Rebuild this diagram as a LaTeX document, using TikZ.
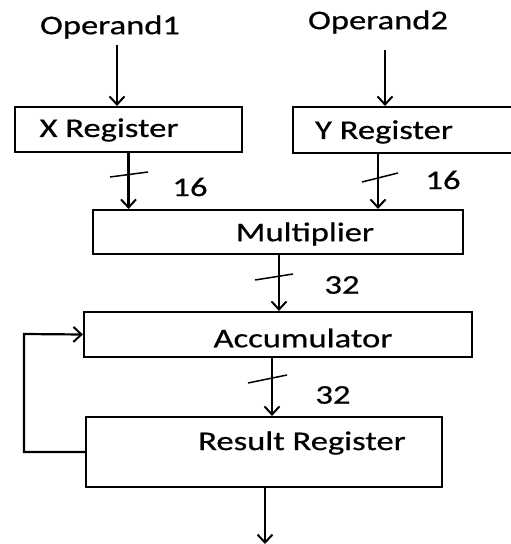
\documentclass[tikz,border=0pt]{standalone}
\usepackage{fontspec}
\setmainfont{Carlito}[FakeStretch=1.28,FakeBold=0.6]
\usetikzlibrary{arrows.meta,calc}
\begin{document}
\begin{tikzpicture}[x=1pt,y=-1pt,
  box/.style={draw,line width=2.2pt,minimum width=#1,inner sep=0pt},
  lbl/.style={font=\fontsize{27}{30}\selectfont,inner sep=0pt,anchor=center},
  arr/.style={line width=2.2pt,-{Straight Barb[length=8pt,width=15pt,line width=2pt]}},
  tick/.style={line width=1.5pt},
]
\useasboundingbox (0,0) rectangle (511,544);
% register and datapath boxes
\node[box=227pt,minimum height=45pt] (xreg) at (128.5,129.5) {};
\node[box=227pt,minimum height=46pt] (yreg) at (406.5,130) {};
\node[box=370pt,minimum height=44pt] (mult) at (278,232) {};
\node[box=388pt,minimum height=45pt] (acc) at (278,334.5) {};
\node[box=356pt,minimum height=70pt] (res) at (264,452) {};
% texts
\node[lbl] (op1) at (110,27) {Operand1};
\node[lbl] (op2) at (378,22) {Operand2};
\node[lbl] at (109,130) {X Register};
\node[lbl] at (384,132) {Y Register};
\node[lbl] at (305,234) {Multiplier};
\node[lbl] at (303,338) {Accumulator};
\node[lbl] at (302,443) {Result Register};
\node[lbl] (w1) at (190,187) {16};
\node[lbl] (w2) at (443,180) {16};
\node[lbl] (w3) at (342,285) {32};
\node[lbl] (w4) at (333,395) {32};
% inputs
\draw[arr] (117,45) -- (117,0 |- xreg.north);
\draw[arr] (385,50) -- (385,0 |- yreg.north);
% 16-bit buses into the multiplier
\draw[arr] (xreg.south) -- (xreg.south |- mult.north);
\draw[arr] (378,0 |- yreg.south) -- (378,0 |- mult.north);
\draw[tick] (110,177) -- (148,172);
\draw[tick] (362,182) -- (398,173);
% 32-bit product into the accumulator
\draw[arr] (279,0 |- mult.south) -- (279,0 |- acc.north);
\draw[tick] (255,280) -- (293,274);
% accumulator to result register
\draw[arr] (272,0 |- acc.south) -- (272,0 |- res.north);
\draw[tick] (248,383) -- (287,375);
% feedback loop
\coordinate (fb1) at (24,452);
\coordinate (fb2) at (24,334);
\draw[arr] (res.west) -- (fb1) -- (fb2) -- (acc.west);
% output
\coordinate (out) at (265,544);
\draw[arr] (265,0 |- res.south) -- (out);
\end{tikzpicture}
\end{document}
